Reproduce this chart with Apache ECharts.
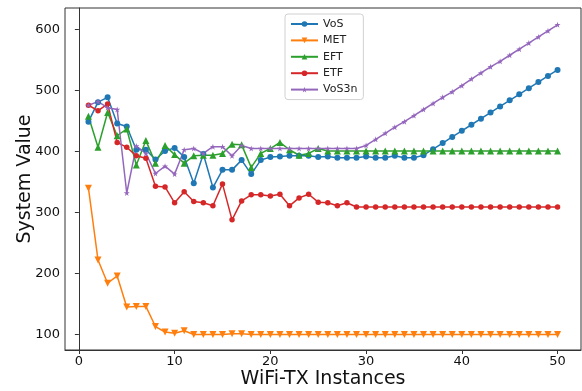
<!DOCTYPE html>
<html>
<head>
<meta charset="utf-8">
<script src="https://cdn.jsdelivr.net/npm/echarts@6.0.0/dist/echarts.min.js"></script>
<style>
  html, body { margin: 0; padding: 0; background: #fff; }
  #chart { width: 582px; height: 391px; }
</style>
</head>
<body>
<div id="chart"></div>
<script>
// WiFi-TX instances (x)
const instances = [1, 2, 3, 4, 5, 6, 7, 8, 9, 10, 11, 12, 13, 14, 15, 16, 17, 18, 19, 20,
  21, 22, 23, 24, 25, 26, 27, 28, 29, 30, 31, 32, 33, 34, 35, 36, 37, 38, 39, 40,
  41, 42, 43, 44, 45, 46, 47, 48, 49, 50];

const vos = [449, 481, 489, 446, 441, 403, 403, 387, 401, 406, 391, 348, 396, 341, 370, 370, 386, 363, 386, 391,
  392, 393, 393, 393, 391, 392, 390, 390, 390, 392, 390, 390, 393, 390, 390, 394, 404, 414, 424, 434,
  444, 454, 464, 474, 484, 494, 504, 514, 524, 534];
const met = [340, 222, 184, 196, 145, 146, 146, 113, 104, 102, 106, 100, 100, 100, 100, 101, 101, 100, 100, 100,
  100, 100, 100, 100, 100, 100, 100, 100, 100, 100, 100, 100, 100, 100, 100, 100, 100, 100, 100, 100,
  100, 100, 100, 100, 100, 100, 100, 100, 100, 100];
const eft = [458, 407, 464, 426, 437, 378, 418, 381, 410, 395, 381, 393, 394, 394, 397, 412, 411, 374, 397, 405,
  415, 403, 394, 397, 405, 401, 401, 401, 401, 401, 401, 401, 401, 401, 401, 401, 401, 401, 401, 401,
  401, 401, 401, 401, 401, 401, 401, 401, 401, 401];
const etf = [476, 467, 478, 415, 407, 393, 389, 343, 342, 316, 334, 318, 316, 311, 347, 288, 319, 329, 329, 327,
  330, 311, 324, 330, 317, 316, 311, 316, 309, 309, 309, 309, 309, 309, 309, 309, 309, 309, 309, 309,
  309, 309, 309, 309, 309, 309, 309, 309, 309, 309];
const vos3n = [476, 482, 472, 469, 332, 409, 397, 364, 376, 363, 403, 405, 397, 408, 408, 393, 410, 405, 405, 405,
  405, 405, 405, 405, 405, 405, 405, 405, 405, 410, 420, 430, 440, 449, 459, 469, 479, 489, 498, 508,
  519, 529, 539, 548, 558, 568, 578, 588, 598, 608];

const xTicks = [0, 10, 20, 30, 40, 50];
const yTicks = [100, 200, 300, 400, 500, 600];

const STAR = 'path://M50,0L61.2,34.6L97.6,34.5L68.1,55.9L79.4,90.5L50,69L20.6,90.5L31.9,55.9L2.4,34.5L38.8,34.6Z';
const FONT = 'DejaVu Sans';

const pairs = (ys) => instances.map((x, i) => [x, ys[i]]);

const mkSeries = (name, ys, color, symbol, size, rotate) => ({
  name: name,
  type: 'line',
  data: pairs(ys),
  symbol: symbol,
  symbolSize: size,
  symbolRotate: rotate || 0,
  showAllSymbol: true,
  lineStyle: { width: 1.5, color: color },
  itemStyle: { color: color },
  emphasis: { disabled: true },
  z: 3
});

const myChart = echarts.init(document.getElementById('chart'));

const option = {
  animation: false,
  textStyle: { fontFamily: FONT },
  grid: {
    left: 65,
    right: 1,
    top: 8,
    bottom: 41,
    outerBoundsMode: 'none',
    show: true,
    borderColor: '#333',
    borderWidth: 1,
    backgroundColor: 'transparent'
  },
  legend: {
    orient: 'vertical',
    left: 285,
    top: 14,
    padding: [3, 6, 3, 5],
    itemWidth: 27,
    itemHeight: 7,
    itemGap: 2.4,
    borderColor: '#d0d0d0',
    borderWidth: 1,
    borderRadius: 3,
    backgroundColor: 'rgba(255,255,255,0.8)',
    textStyle: { fontFamily: FONT, fontSize: 11, color: '#222', lineHeight: 14 },
    data: ['VoS', 'MET', 'EFT', 'ETF', 'VoS3n']
  },
  xAxis: {
    type: 'value',
    min: -1.45,
    max: 52.45,
    name: 'WiFi-TX Instances',
    nameLocation: 'middle',
    nameGap: 20,
    nameMoveOverlap: false,
    nameTextStyle: { fontFamily: FONT, fontSize: 19, color: '#111' },
    axisLine: { show: true, lineStyle: { color: '#333' } },
    axisTick: { show: true, length: 4, customValues: xTicks, lineStyle: { color: '#333' } },
    axisLabel: { customValues: xTicks, margin: 5, fontFamily: FONT, fontSize: 13, color: '#111' },
    splitLine: { show: false }
  },
  yAxis: {
    type: 'value',
    min: 74.5,
    max: 635.5,
    name: 'System Value',
    nameLocation: 'middle',
    nameGap: 30,
    nameMoveOverlap: false,
    nameTextStyle: { fontFamily: FONT, fontSize: 19, color: '#111' },
    axisLine: { show: true, lineStyle: { color: '#333' } },
    axisTick: { show: true, length: 4, customValues: yTicks, lineStyle: { color: '#333' } },
    axisLabel: { customValues: yTicks, margin: 5, fontFamily: FONT, fontSize: 13, color: '#111' },
    splitLine: { show: false }
  },
  series: [
    mkSeries('VoS', vos, '#1f77b4', 'circle', 6),
    mkSeries('MET', met, '#ff7f0e', 'triangle', 7, 180),
    mkSeries('EFT', eft, '#2ca02c', 'triangle', 7),
    mkSeries('ETF', etf, '#d62728', 'circle', 5.5),
    mkSeries('VoS3n', vos3n, '#9467bd', STAR, 6)
  ]
};

myChart.setOption(option);
</script>
</body>
</html>
